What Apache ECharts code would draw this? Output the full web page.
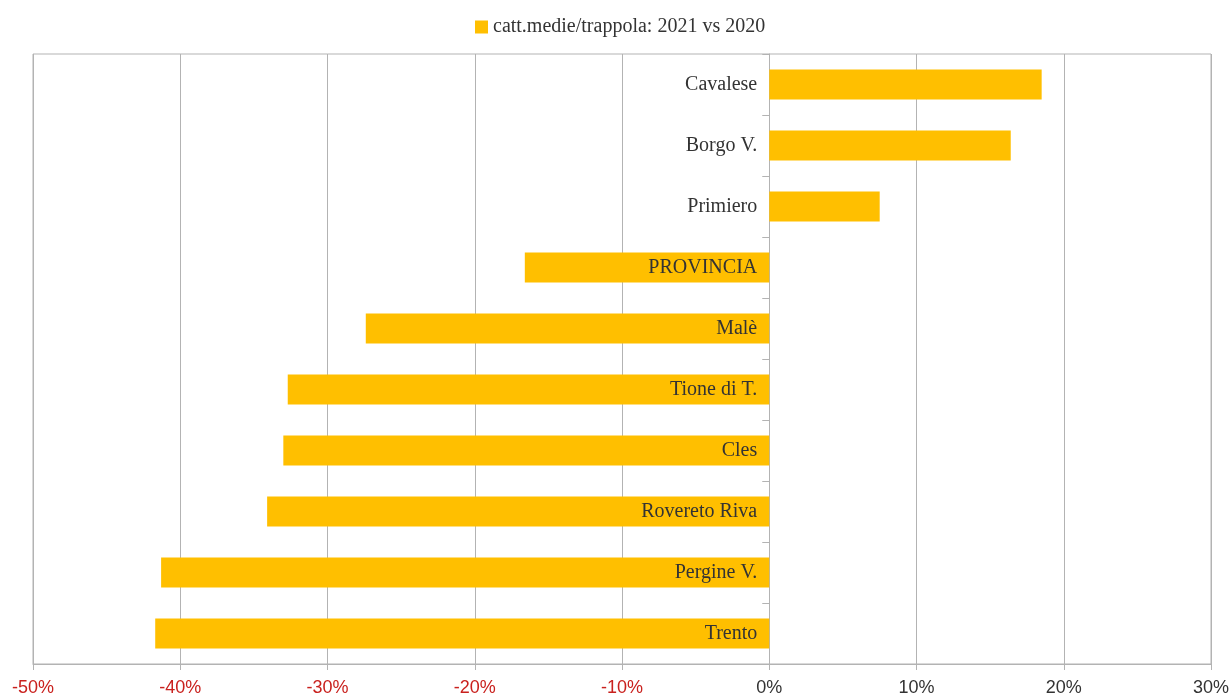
<!DOCTYPE html>
<html>
<head>
<meta charset="utf-8">
<title>catt.medie/trappola: 2021 vs 2020</title>
<script src="https://cdn.jsdelivr.net/npm/echarts@6/dist/echarts.min.js"></script>
<style>
  html, body { margin: 0; padding: 0; background: #ffffff; }
  #chart { width: 1231px; height: 696px; }
</style>
</head>
<body>
<div id="chart"></div>
<script>
// Areas, listed from top to bottom
const categories = ['Cavalese', 'Borgo V.', 'Primiero', 'PROVINCIA', 'Malè', 'Tione di T.', 'Cles', 'Rovereto Riva', 'Pergine V.', 'Trento'];
// Percentage change of average catches per trap, 2021 vs 2020
const changeValues = [18.5, 16.4, 7.5, -16.6, -27.4, -32.7, -33.0, -34.1, -41.3, -41.7];
const seriesName = 'catt.medie/trappola: 2021 vs 2020';
const xMin = -50, xMax = 30, xStep = 10;

// Category names sit just left of the zero line: outside positive bars,
// inside the right end of negative bars.
const barData = changeValues.map(v => ({
  value: v,
  label: { position: v >= 0 ? 'left' : 'insideRight' }
}));

const chart = echarts.init(document.getElementById('chart'), null, { renderer: 'canvas' });
chart.setOption({
  animation: false,
  backgroundColor: '#ffffff',
  legend: {
    top: 12,
    left: 470,
    icon: 'rect',
    itemWidth: 13,
    itemHeight: 13,
    itemGap: 4,
    textStyle: { fontFamily: 'Liberation Serif', fontSize: 20, color: '#333333' },
    data: [seriesName]
  },
  grid: {
    left: 33, right: 20, top: 54, bottom: 32,
    containLabel: false,
    outerBoundsMode: 'none',
    show: true, borderColor: '#b3b3b3', borderWidth: 1
  },
  xAxis: {
    type: 'value',
    min: xMin, max: xMax, interval: xStep,
    axisLine: { show: true, lineStyle: { color: '#b3b3b3' } },
    axisTick: { show: true, length: 6, lineStyle: { color: '#b3b3b3' } },
    splitLine: { show: true, lineStyle: { color: '#b3b3b3', width: 1 } },
    axisLabel: {
      margin: 15,
      fontFamily: 'Liberation Sans',
      fontSize: 18,
      formatter: v => v + '%',
      color: v => (Number(v) < 0 ? '#c9211e' : '#333333')
    }
  },
  yAxis: {
    type: 'category',
    inverse: true,
    data: categories,
    axisLine: { show: true, onZero: true, lineStyle: { color: '#b3b3b3' } },
    axisTick: { show: true, length: 7, lineStyle: { color: '#b3b3b3' } },
    axisLabel: { show: false },
    splitLine: { show: false }
  },
  series: [{
    name: seriesName,
    type: 'bar',
    data: barData,
    barWidth: '49%',
    itemStyle: { color: '#ffbf00' },
    label: {
      show: true,
      distance: 12,
      formatter: p => p.name,
      fontFamily: 'Liberation Serif',
      fontSize: 20,
      color: '#333333'
    }
  }]
});
</script>
</body>
</html>
